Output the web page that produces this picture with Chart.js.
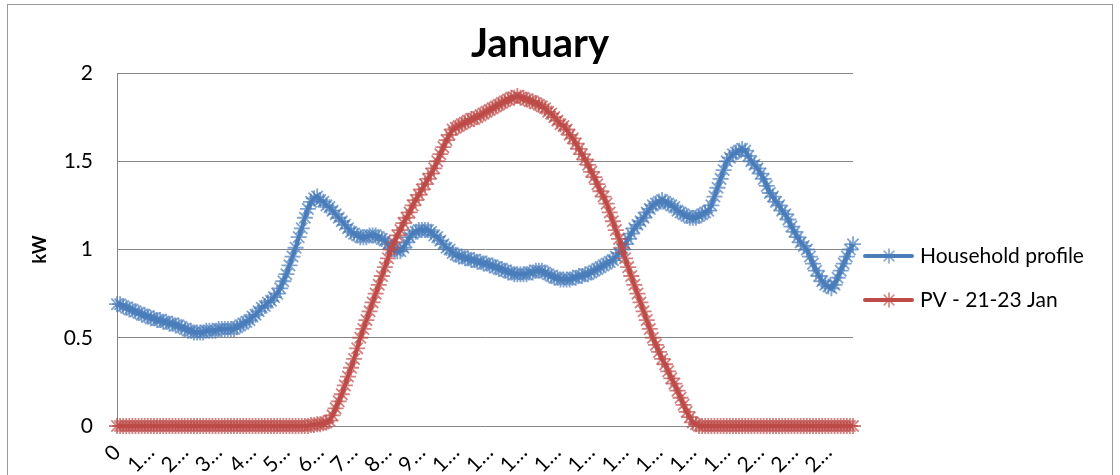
<!DOCTYPE html>
<html>
<head>
<meta charset="utf-8">
<script src="https://cdn.jsdelivr.net/npm/chart.js@4.4.1/dist/chart.umd.min.js"></script>
<style>
  body { margin: 0; background: #fff; }
  #wrap { position: relative; width: 1120px; height: 475px; overflow: hidden; }
  #frame { position: absolute; left: 7px; top: 4px; width: 1104px; height: 600px; border: 1px solid #9a9a9a; pointer-events: none; }
  canvas { position: absolute; left: 0; top: 0; }
</style>
</head>
<body>
<div id="wrap">
  <canvas id="janChart" width="1120" height="475"></canvas>
  <div id="frame"></div>
</div>
<script>
let chartTitle = 'January';
let yTitle = 'kW';
let seriesNames = ['Household profile', 'PV - 21-23 Jan'];
let yTicks = [0, 0.5, 1, 1.5, 2];

// one category every 0.1 h (6 min), 0 .. 23.9
let hours = [];
for (let i = 0; i < 240; i++) hours.push(String(i / 10));

// every 11th category gets a label, the way Excel spaced them
let labelEvery = 11;

// household load, kW (one row = one hour)
let household = [
  0.69, 0.69, 0.68, 0.67, 0.66, 0.66, 0.65, 0.64, 0.63, 0.63,
  0.62, 0.61, 0.61, 0.60, 0.60, 0.59, 0.59, 0.58, 0.58, 0.57,
  0.57, 0.56, 0.55, 0.54, 0.54, 0.53, 0.53, 0.53, 0.53, 0.54,
  0.54, 0.54, 0.54, 0.55, 0.55, 0.55, 0.55, 0.55, 0.55, 0.56,
  0.57, 0.58, 0.59, 0.60, 0.62, 0.63, 0.65, 0.67, 0.68, 0.70,
  0.71, 0.73, 0.75, 0.78, 0.82, 0.86, 0.91, 0.96, 1.01, 1.07,
  1.12, 1.18, 1.23, 1.27, 1.29, 1.30, 1.28, 1.27, 1.25, 1.24,
  1.22, 1.20, 1.18, 1.16, 1.14, 1.12, 1.10, 1.09, 1.08, 1.07,
  1.07, 1.07, 1.08, 1.08, 1.08, 1.07, 1.06, 1.05, 1.03, 1.01,
  1.00, 0.99, 0.99, 1.01, 1.04, 1.07, 1.09, 1.10, 1.11, 1.11,
  1.11, 1.11, 1.10, 1.08, 1.07, 1.05, 1.03, 1.01, 1.00, 0.98,
  0.97, 0.96, 0.96, 0.95, 0.95, 0.94, 0.94, 0.93, 0.93, 0.92,
  0.92, 0.91, 0.91, 0.90, 0.89, 0.89, 0.88, 0.87, 0.87, 0.86,
  0.86, 0.86, 0.86, 0.86, 0.87, 0.87, 0.88, 0.88, 0.88, 0.87,
  0.86, 0.85, 0.84, 0.84, 0.83, 0.83, 0.83, 0.83, 0.84, 0.84,
  0.85, 0.85, 0.86, 0.86, 0.87, 0.88, 0.89, 0.90, 0.91, 0.92,
  0.93, 0.94, 0.96, 0.98, 1.00, 1.03, 1.06, 1.09, 1.12, 1.14,
  1.16, 1.18, 1.21, 1.23, 1.25, 1.26, 1.27, 1.28, 1.27, 1.26,
  1.25, 1.24, 1.22, 1.21, 1.20, 1.19, 1.18, 1.18, 1.18, 1.19,
  1.20, 1.21, 1.22, 1.25, 1.30, 1.35, 1.40, 1.45, 1.50, 1.52,
  1.54, 1.55, 1.56, 1.57, 1.56, 1.53, 1.50, 1.48, 1.46, 1.43,
  1.40, 1.36, 1.32, 1.30, 1.27, 1.25, 1.22, 1.20, 1.17, 1.13,
  1.10, 1.07, 1.04, 1.02, 1.00, 0.96, 0.92, 0.88, 0.85, 0.82,
  0.80, 0.79, 0.78, 0.80, 0.84, 0.88, 0.92, 0.96, 1.00, 1.03
];

// PV output, kW
let pv = [
  0, 0, 0, 0, 0, 0, 0, 0, 0, 0,
  0, 0, 0, 0, 0, 0, 0, 0, 0, 0,
  0, 0, 0, 0, 0, 0, 0, 0, 0, 0,
  0, 0, 0, 0, 0, 0, 0, 0, 0, 0,
  0, 0, 0, 0, 0, 0, 0, 0, 0, 0,
  0, 0, 0, 0, 0, 0, 0, 0, 0, 0,
  0, 0, 0, 0.005, 0.005, 0.01, 0.01, 0.015, 0.02, 0.03,
  0.06, 0.10, 0.14, 0.18, 0.23, 0.28, 0.33, 0.38, 0.44, 0.50,
  0.55, 0.60, 0.65, 0.70, 0.75, 0.80, 0.85, 0.90, 0.95, 1.00,
  1.04, 1.08, 1.11, 1.15, 1.18, 1.21, 1.25, 1.28, 1.31, 1.34,
  1.37, 1.40, 1.43, 1.46, 1.50, 1.54, 1.58, 1.62, 1.65, 1.68,
  1.69, 1.70, 1.71, 1.72, 1.73, 1.74, 1.74, 1.75, 1.76, 1.77,
  1.78, 1.79, 1.80, 1.81, 1.82, 1.83, 1.84, 1.85, 1.86, 1.86,
  1.87, 1.86, 1.86, 1.85, 1.84, 1.84, 1.83, 1.82, 1.81, 1.80,
  1.78, 1.77, 1.75, 1.73, 1.71, 1.70, 1.68, 1.65, 1.63, 1.60,
  1.57, 1.54, 1.51, 1.48, 1.44, 1.41, 1.37, 1.33, 1.30, 1.26,
  1.21, 1.16, 1.11, 1.06, 1.01, 0.95, 0.90, 0.85, 0.80, 0.75,
  0.70, 0.65, 0.60, 0.55, 0.50, 0.46, 0.42, 0.38, 0.35, 0.31,
  0.27, 0.24, 0.20, 0.16, 0.12, 0.08, 0.05, 0.02, 0.01, 0,
  0, 0, 0, 0, 0, 0, 0, 0, 0, 0,
  0, 0, 0, 0, 0, 0, 0, 0, 0, 0,
  0, 0, 0, 0, 0, 0, 0, 0, 0, 0,
  0, 0, 0, 0, 0, 0, 0, 0, 0, 0,
  0, 0, 0, 0, 0, 0, 0, 0, 0, 0
];

let lineColors = ['#4a7ebb', '#be4b48'];
let markColors = ['rgba(74,126,187,0.7)', 'rgba(190,75,72,0.7)'];

const FONT = "Lato, 'Liberation Sans', sans-serif";
Chart.defaults.font.family = FONT;

function drawStar(ctx, x, y, r, color) {
  ctx.save();
  ctx.strokeStyle = color;
  ctx.lineWidth = 1.6;
  ctx.beginPath();
  for (let k = 0; k < 4; k++) {
    const a = k * Math.PI / 4;
    ctx.moveTo(x - Math.cos(a) * r, y - Math.sin(a) * r);
    ctx.lineTo(x + Math.cos(a) * r, y + Math.sin(a) * r);
  }
  ctx.stroke();
  ctx.restore();
}

// title and legend drawn where Excel put them
const excelDecor = {
  id: 'excelDecor',
  afterDraw(chart) {
    const ctx = chart.ctx;
    ctx.save();
    ctx.fillStyle = '#000';
    ctx.font = 'bold 40px ' + FONT;
    ctx.textAlign = 'center';
    ctx.textBaseline = 'alphabetic';
    ctx.fillText(chartTitle, 540, 57);

    chart.data.datasets.forEach((ds, i) => {
      const y = 256 + i * 44;
      ctx.strokeStyle = ds.borderColor;
      ctx.lineWidth = 4;
      ctx.lineCap = 'round';
      ctx.beginPath();
      ctx.moveTo(865, y);
      ctx.lineTo(912, y);
      ctx.stroke();
      drawStar(ctx, 889, y, 7, ds.pointBorderColor);
      ctx.fillStyle = '#000';
      ctx.font = '21px ' + FONT;
      ctx.textAlign = 'left';
      ctx.fillText(ds.label, 920, y + 7);
    });
    ctx.restore();
  }
};

const dataJan = {
  labels: hours,
  datasets: [
    {
      label: seriesNames[0],
      data: household,
      borderColor: lineColors[0],
      borderWidth: 4,
      pointStyle: 'star',
      pointRadius: 8,
      pointBorderWidth: 1.8,
      pointBorderColor: markColors[0],
      pointBackgroundColor: markColors[0],
      tension: 0,
      clip: false,
      order: 2
    },
    {
      label: seriesNames[1],
      data: pv,
      borderColor: lineColors[1],
      borderWidth: 4,
      pointStyle: 'star',
      pointRadius: 8,
      pointBorderWidth: 1.8,
      pointBorderColor: markColors[1],
      pointBackgroundColor: markColors[1],
      tension: 0,
      clip: false,
      order: 1
    }
  ]
};

const configJan = {
  type: 'line',
  data: dataJan,
  options: {
    responsive: false,
    animation: false,
    devicePixelRatio: 1,
    layout: { padding: { left: 29, top: 73, right: 267, bottom: 0 } },
    plugins: {
      legend: { display: false },
      title: { display: false },
      tooltip: { enabled: false }
    },
    scales: {
      x: {
        grid: { display: false },
        border: { display: false },
        ticks: {
          autoSkip: false,
          minRotation: 45,
          maxRotation: 45,
          padding: 6,
          color: '#000',
          font: { size: 21 },
          callback: function (value, index) {
            if (index % labelEvery !== 0) return null;
            const s = this.getLabelForValue(value);
            return s.length > 1 ? s[0] + '…' : s;
          }
        },
        afterFit: (s) => { s.height = 49; }
      },
      y: {
        min: yTicks[0],
        max: yTicks[yTicks.length - 1],
        afterBuildTicks: (s) => { s.ticks = yTicks.map(v => ({ value: v })); },
        grid: { color: '#868686', lineWidth: 1, drawTicks: false },
        border: { display: true, color: '#868686', width: 1 },
        ticks: {
          padding: 24,
          color: '#000',
          font: { size: 21 },
          callback: (v) => String(v)
        },
        title: {
          display: true,
          text: yTitle,
          color: '#000',
          padding: 0,
          font: { size: 18, weight: 'bold' }
        },
        afterFit: (s) => { s.width = 88; }
      }
    }
  },
  plugins: [excelDecor]
};

var janChart = new Chart(document.getElementById('janChart'), configJan);
</script>
</body>
</html>
